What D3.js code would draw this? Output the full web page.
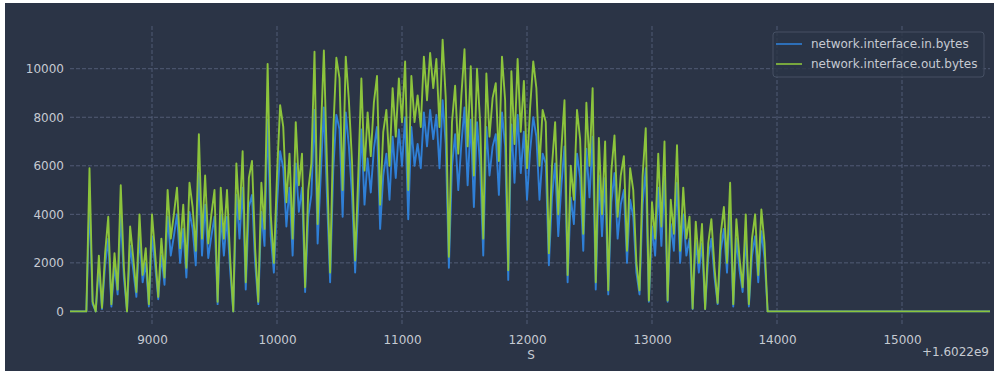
<!DOCTYPE html>
<html>
<head>
<meta charset="utf-8">
<script src="https://cdn.jsdelivr.net/npm/d3@7/dist/d3.min.js"></script>
<style>
  html, body { margin: 0; padding: 0; background: #ffffff; }
  svg { display: block; }
  text { font-family: "DejaVu Sans", sans-serif; }
</style>
</head>
<body>
<svg id="chart" width="994" height="371"></svg>
<script>
// Sample clock: seconds after the 1.6022e9 epoch offset
const epochOffset = "+1.6022e9";
const sampleStart = 8475;
const sampleStep = 25;
const leadIn = 8344;     // first (idle) sample
const tailEnd = 15704;   // last (idle) sample

const seriesNames = ["network.interface.in.bytes", "network.interface.out.bytes"];

const inBytes = [
  0, 4600, 300, 0, 1800, 100, 1900, 3000, 200, 1900,
  700, 4000, 1400, 0, 2700, 1700, 600, 3100, 1200, 2000,
  200, 3100, 1900, 500, 2300, 1100, 3900, 2300, 3100, 4000,
  2000, 3400, 1400, 4100, 3400, 1900, 5700, 2300, 4400, 2200,
  3100, 3900, 300, 4000, 2300, 3900, 1700, 0, 4800, 3000,
  5100, 900, 4300, 4800, 2000, 300, 4100, 2700, 7900, 3100,
  1600, 4400, 6600, 5900, 3500, 5100, 2300, 6100, 4100, 5100,
  800, 3900, 4800, 8300, 2800, 5600, 8400, 4700, 1200, 5800,
  8100, 7500, 3900, 8200, 6800, 4800, 1600, 4400, 7500, 4400,
  6300, 4900, 6700, 7600, 3400, 5600, 6500, 4600, 7200, 5500,
  7500, 6000, 8000, 3800, 7600, 6000, 6900, 5900, 8200, 6800,
  8300, 7100, 8100, 5900, 8700, 6900, 1800, 6000, 7300, 5000,
  6900, 8400, 5200, 7900, 4300, 7800, 6000, 2300, 7600, 5600,
  6800, 7300, 4800, 8200, 6800, 1300, 7700, 5300, 8100, 5700,
  7400, 4600, 6600, 8000, 7200, 4600, 6500, 6100, 1900, 4700,
  6100, 3100, 5200, 6800, 1200, 4700, 3600, 6500, 5500, 2500,
  6700, 4700, 7200, 900, 5600, 3100, 5500, 700, 4500, 5700,
  3000, 4400, 5000, 2000, 4600, 3900, 1600, 700, 4400, 5900,
  400, 3500, 2300, 5100, 2700, 5500, 400, 3600, 2500, 5300,
  2000, 4000, 2300, 3000, 100, 2900, 1600, 2800, 100, 2200,
  3000, 1400, 300, 2500, 3400, 1600, 4100, 200, 3000, 1700,
  800, 3100, 200, 2300, 3100, 1200, 3300, 2200, 0
];

const outBytes = [
  0, 5900, 400, 0, 2300, 150, 2400, 3900, 300, 2400,
  900, 5200, 1800, 0, 3500, 2200, 800, 4000, 1500, 2600,
  300, 4000, 2400, 600, 3000, 1400, 5000, 3000, 4000, 5100,
  2600, 4400, 1800, 5300, 4300, 2500, 7300, 3000, 5600, 2800,
  4000, 5000, 400, 5100, 3000, 5000, 2200, 0, 6100, 3800,
  6600, 1200, 5500, 6200, 2600, 400, 5300, 3400, 10200, 4000,
  2000, 5600, 8500, 7600, 4500, 6500, 3000, 7800, 5200, 6500,
  1000, 5000, 6100, 10700, 3600, 7200, 10750, 6000, 1600, 7400,
  10450, 9600, 5000, 10500, 8700, 6200, 2100, 5600, 9600, 5800,
  8200, 6400, 8600, 9700, 4400, 7400, 8300, 6000, 9200, 7200,
  9600, 7800, 10300, 5000, 9700, 7800, 8900, 7600, 10500, 8700,
  10650, 9200, 10400, 7600, 11200, 8800, 2250, 7800, 9300, 6500,
  8900, 10800, 6800, 10100, 5600, 10000, 7800, 3000, 9800, 7200,
  8800, 9400, 6200, 10500, 8700, 1700, 9900, 6900, 10400, 7400,
  9500, 5900, 8400, 10300, 9200, 6000, 8300, 7800, 2400, 6000,
  7800, 4000, 6700, 8700, 1500, 6000, 4600, 8300, 7100, 3200,
  8600, 6000, 9200, 1200, 7150, 4000, 7000, 870, 5800, 7250,
  3900, 5600, 6400, 2500, 5900, 5000, 2000, 870, 5600, 7550,
  450, 4500, 3000, 6500, 3500, 7000, 450, 4600, 3200, 6850,
  2500, 5100, 3000, 3900, 120, 3700, 2000, 3600, 100, 2800,
  3800, 1800, 350, 3200, 4300, 2000, 5300, 300, 3800, 2200,
  1000, 4000, 300, 3000, 4000, 1500, 4200, 2800, 0
];

const xTicks = [9000, 10000, 11000, 12000, 13000, 14000, 15000];
const yTicks = [0, 2000, 4000, 6000, 8000, 10000];

const colors = { in: "#2f7fd6", out: "#8cc43c", bg: "#2b3446", grid: "#56607a", text: "#c6cad2" };

// Build (time, value) rows: idle lead-in, active samples, idle tail
function rows(values) {
  const r = [{ t: leadIn, v: 0 }];
  values.forEach((v, i) => r.push({ t: sampleStart + i * sampleStep, v }));
  r.push({ t: tailEnd, v: 0 });
  return r;
}
const inRows = rows(inBytes);
const outRows = rows(outBytes);

const svg = d3.select("#chart");
const W = 994, H = 371;

// dark canvas
svg.append("rect").attr("x", 5).attr("y", 3).attr("width", W - 5).attr("height", H - 3).attr("fill", colors.bg);

const plot = { left: 70, right: 990, top: 26, bottom: 325 };
const x = d3.scaleLinear().domain([leadIn, tailEnd]).range([plot.left, plot.right]);
const yMax = d3.max(outBytes);
const y = d3.scaleLinear().domain([-0.05 * yMax, 1.05 * yMax]).range([plot.bottom, plot.top]);

// grid
const grid = svg.append("g").attr("stroke", colors.grid).attr("stroke-width", 0.9).attr("stroke-dasharray", "4,2");
grid.selectAll("line.v").data(xTicks).join("line")
  .attr("x1", d => x(d)).attr("x2", d => x(d)).attr("y1", plot.top).attr("y2", plot.bottom);
grid.selectAll("line.h").data(yTicks).join("line")
  .attr("y1", d => y(d)).attr("y2", d => y(d)).attr("x1", plot.left).attr("x2", plot.right);

// axes (labels only, no spines)
const xAxis = d3.axisBottom(x).tickValues(xTicks).tickSize(0).tickPadding(10).tickFormat(d3.format("d"));
const yAxis = d3.axisLeft(y).tickValues(yTicks).tickSize(0).tickPadding(6).tickFormat(d3.format("d"));
const gx = svg.append("g").attr("transform", `translate(0,${plot.bottom})`).call(xAxis);
const gy = svg.append("g").attr("transform", `translate(${plot.left},0)`).call(yAxis);
[gx, gy].forEach(g => {
  g.select(".domain").remove();
  g.selectAll("text").attr("fill", colors.text).attr("font-size", 12).attr("font-family", "DejaVu Sans");
});

// series lines
const line = d3.line().x(d => x(d.t)).y(d => y(d.v));
svg.append("clipPath").attr("id", "plotclip").append("rect")
  .attr("x", plot.left).attr("y", plot.top).attr("width", plot.right - plot.left).attr("height", plot.bottom - plot.top);
const lines = svg.append("g").attr("clip-path", "url(#plotclip)");
lines.append("path").datum(inRows).attr("d", line).attr("fill", "none")
  .attr("stroke", colors.in).attr("stroke-width", 1.9).attr("stroke-linejoin", "round");
lines.append("path").datum(outRows).attr("d", line).attr("fill", "none")
  .attr("stroke", colors.out).attr("stroke-width", 1.9).attr("stroke-linejoin", "round");

// axis label and offset
svg.append("text").attr("x", 531).attr("y", 359).attr("text-anchor", "middle")
  .attr("fill", colors.text).attr("font-size", 12).text("S");
svg.append("text").attr("x", 989).attr("y", 356).attr("text-anchor", "end")
  .attr("fill", colors.text).attr("font-size", 12).text(epochOffset);

// legend
const lg = svg.append("g").attr("transform", "translate(773,32)");
lg.append("rect").attr("width", 211).attr("height", 45).attr("rx", 3)
  .attr("fill", colors.bg).attr("fill-opacity", 0.8)
  .attr("stroke", "#4a5468").attr("stroke-width", 0.9);
[colors.in, colors.out].forEach((c, i) => {
  const yy = 12 + i * 20;
  lg.append("line").attr("x1", 3).attr("x2", 29).attr("y1", yy).attr("y2", yy)
    .attr("stroke", c).attr("stroke-width", 1.6);
  lg.append("text").attr("x", 38).attr("y", yy + 4.3).attr("fill", colors.text)
    .attr("font-size", 12).text(seriesNames[i]);
});
</script>
</body>
</html>
